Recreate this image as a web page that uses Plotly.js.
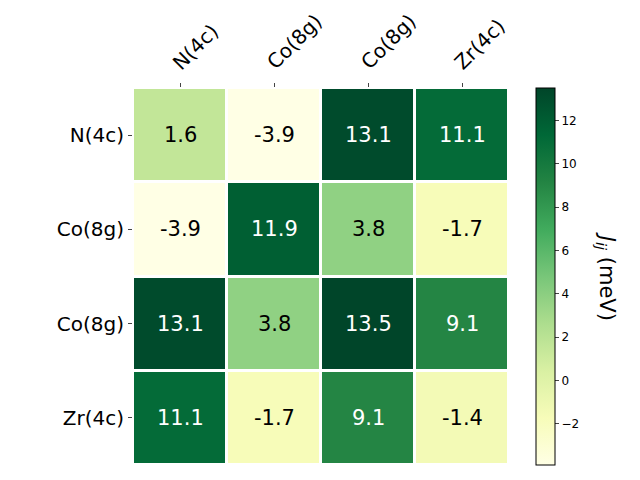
<!DOCTYPE html>
<html><head><meta charset="utf-8">
<script src="https://cdn.plot.ly/plotly-3.0.1.min.js"></script>
<style>html,body{margin:0;padding:0;background:#fff}</style>
</head><body><div id="chart" style="width:640px;height:480px"></div>
<script>
const labels = ["N(4c)", "Co(8g)", "Co(8g)", "Zr(4c)"];
const values = [
  [1.6, -3.9, 13.1, 11.1],
  [-3.9, 11.9, 3.8, -1.7],
  [13.1, 3.8, 13.5, 9.1],
  [11.1, -1.7, 9.1, -1.4]
];
const idx = [0, 1, 2, 3];
const zmin = -3.9, zmax = 13.5;
const ylgn = [
  [0, '#ffffe5'], [0.125, '#f7fcb9'], [0.25, '#d9f0a3'], [0.375, '#addd8e'],
  [0.5, '#78c679'], [0.625, '#41ab5d'], [0.75, '#238443'], [0.875, '#006837'], [1, '#004529']
];
const annotations = [];
values.forEach((row, i) => row.forEach((v, j) => {
  const frac = (v - zmin) / (zmax - zmin);
  annotations.push({x: j, y: i, xref: 'x', yref: 'y', text: v.toFixed(1), showarrow: false,
    font: {family: 'DejaVu Sans', size: 21, color: frac > 0.6 ? '#ffffff' : '#000000'}});
}));
labels.forEach((lab, j) => {
  annotations.push({x: j, y: 1, xref: 'x', yref: 'paper', text: lab, showarrow: false,
    textangle: -45, xanchor: 'left', yanchor: 'bottom', xshift: -15, yshift: 11,
    font: {family: 'DejaVu Sans', size: 20, color: '#000'}});
});
annotations.push({xref: 'paper', yref: 'paper', x: 1.30, y: 0.5, text: '<i>J<sub>ij</sub></i> (meV)',
  textangle: 90, showarrow: false, font: {family: 'DejaVu Sans', size: 21, color: '#000'}});
const trace = {
  type: 'heatmap', x: idx, y: idx, z: values, zmin: zmin, zmax: zmax,
  colorscale: ylgn, xgap: 3, ygap: 3, hoverinfo: 'skip',
  colorbar: {x: 1.072, xanchor: 'left', y: 0.5, yanchor: 'middle', len: 1, lenmode: 'fraction',
    thickness: 19, outlinewidth: 1, outlinecolor: '#000', ticks: 'outside', ticklen: 4,
    tickvals: [-2, 0, 2, 4, 6, 8, 10, 12], ticktext: ['\u22122', '0', '2', '4', '6', '8', '10', '12'],
    tickfont: {family: 'DejaVu Sans', size: 12, color: '#000'}, xpad: 0, ypad: 0}
};
const layout = {
  width: 640, height: 480, margin: {l: 133, r: 131, t: 88, b: 15},
  paper_bgcolor: '#fff', plot_bgcolor: '#fff',
  xaxis: {side: 'top', tickvals: idx, showticklabels: false, ticks: 'outside', ticklen: 4,
    showgrid: false, zeroline: false, range: [-0.5, 3.5], showline: false},
  yaxis: {tickvals: idx, ticktext: labels, ticks: 'outside', ticklen: 4, autorange: false,
    range: [3.5, -0.5], tickfont: {family: 'DejaVu Sans', size: 20, color: '#000'},
    showgrid: false, zeroline: false, showline: false},
  annotations: annotations
};
Plotly.newPlot('chart', [trace], layout, {displayModeBar: false, staticPlot: true});
</script></body></html>
